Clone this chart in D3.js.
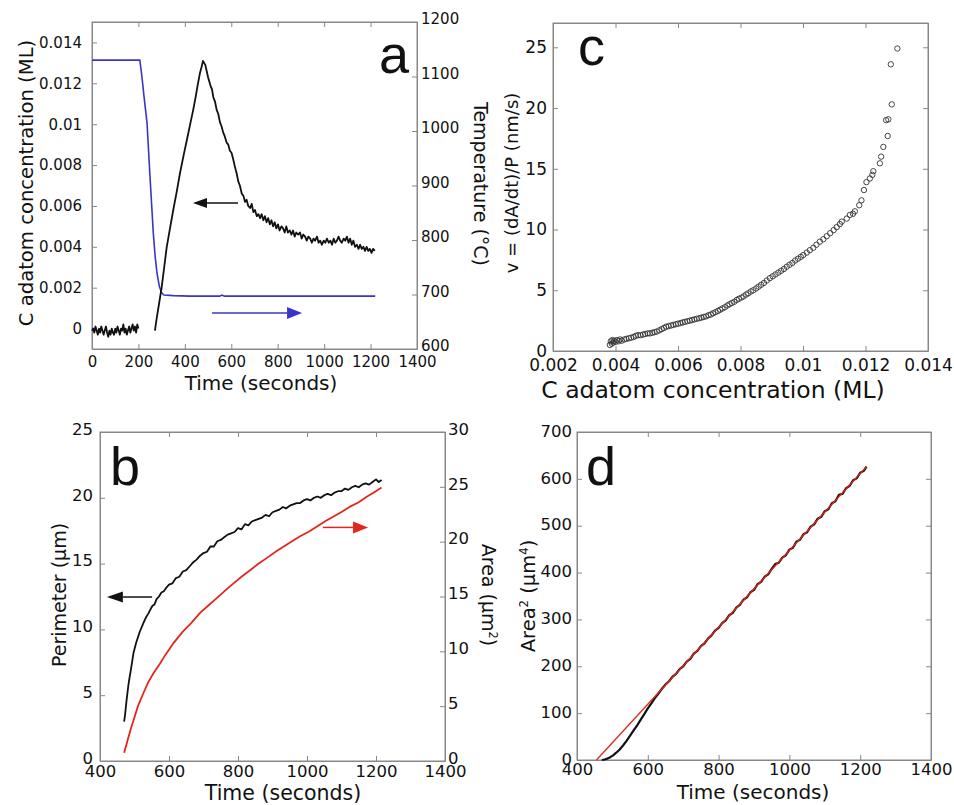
<!DOCTYPE html>
<html>
<head>
<meta charset="utf-8">
<script src="https://cdn.jsdelivr.net/npm/d3@7"></script>
<style>
  body { margin: 0; background: #fff; }
  svg text { font-family: "DejaVu Sans", sans-serif; fill: #111; }
  .tick line, .domain { stroke: #888; }
</style>
</head>
<body>
<svg id="fig" width="954" height="805"></svg>
<script>
// ---- panel a: C adatom concentration (ML) vs time, and temperature ----
const concEarly = [
  [0,-0.0001],[5,0.0000],[10,-0.0002],[15,0.0001],[20,-0.0001],[25,-0.0003],[30,0.0000],[35,-0.0002],
  [40,0.0001],[45,-0.0001],[50,-0.0003],[55,-0.0001],[60,0.0001],[65,-0.0002],[70,-0.0004],[75,-0.0001],
  [80,-0.0003],[85,0.0000],[90,-0.0002],[95,-0.0003],[100,0.0000],[105,-0.0002],[110,0.0001],[115,-0.0001],
  [120,-0.0003],[125,0.0000],[130,-0.0001],[135,0.0002],[140,-0.0002],[145,0.0000],[150,-0.0003],[155,-0.0001],
  [160,0.0001],[165,-0.0002],[170,0.0000],[175,0.0002],[180,-0.0001],[185,0.0001],[190,-0.0002],[195,0.0002],[200,0.0000]
]
const concLate = [
  [271,-0.0001],[280,0.0006],[290,0.0013],[300,0.0020],[311,0.0030],[322,0.0040],[336,0.0049],[350,0.0058],
  [365,0.0067],[379,0.0076],[395,0.0085],[410,0.0093],[423,0.0100],[436,0.0107],[446,0.0113],[455,0.0119],
  [465,0.0125],[472,0.0128],[478,0.0131],[483,0.0130],[488,0.0129],[494,0.0126],[500,0.0123],[510,0.0119],
  [517,0.0117],[523,0.0113],[530,0.0111],[537,0.0107],[544,0.0105],[551,0.0101],[558,0.0099],[565,0.0096],
  [572,0.0094],[580,0.0091],[587,0.0090],[594,0.0087],[601,0.0086],[608,0.0083],[616,0.0079],
  [623,0.0076],[630,0.0072],[637,0.0070],[645,0.0066],[652,0.0065],[659,0.0062],[666,0.0063],[673,0.0060],
  [681,0.0059],[688,0.0061],[695,0.0057],[702,0.0058],[710,0.0055],[717,0.0056],[724,0.0054],[731,0.0056],
  [738,0.0053],[745,0.0055],[752,0.0052],[759,0.0054],[766,0.0051],[773,0.0053],[780,0.0050],[787,0.0052],
  [794,0.0049],[801,0.0051],[808,0.0048],[816,0.0050],[823,0.0049],[830,0.0047],[837,0.0050],[844,0.0047],
  [852,0.0048],[859,0.0046],[866,0.0048],[873,0.0045],[880,0.0047],[888,0.0046],[896,0.0047],[903,0.0044],
  [910,0.0046],[918,0.0045],[925,0.0043],[932,0.0045],[940,0.0044],[947,0.0042],[954,0.0044],[961,0.0043],
  [969,0.0045],[976,0.0042],[983,0.0043],[990,0.0041],[998,0.0043],[1005,0.0042],[1012,0.0044],[1020,0.0042],
  [1027,0.0043],[1034,0.0041],[1041,0.0044],[1048,0.0042],[1055,0.0043],[1062,0.0045],[1069,0.0043],[1076,0.0042],
  [1084,0.0044],[1091,0.0043],[1098,0.0045],[1105,0.0042],[1112,0.0044],[1119,0.0041],[1126,0.0043],[1133,0.0040],
  [1141,0.0041],[1148,0.0039],[1155,0.0041],[1162,0.0039],[1169,0.0040],[1176,0.0038],[1183,0.0040],[1190,0.0038],
  [1197,0.0039],[1204,0.0037],[1211,0.0039],[1218,0.0038]
]
const tempCurve = [
  [0,1130],[206,1130],[215,1100],[225,1060],[237,1015],[250,915],[264,813],[272,770],[280,739],[290,715],
  [300,703],[310,699],[350,698],[420,697],[500,697],[550,697],[560,699],[570,697],[800,697],[1000,697],[1220,697]
]
const timeTicksA = [0,200,400,600,800,1000,1200,1400]
const concTicks = [0,0.002,0.004,0.006,0.008,0.01,0.012,0.014]
const tempTicks = [600,700,800,900,1000,1100,1200]

// ---- panel b: perimeter and area vs time ----
const perimData = [
  [470,3.0],[473,3.6],[477,4.6],[482,5.7],[486,6.4],[490,7.0],[497,8.2],[505,9.0],[515,9.8],[526,10.5],
  [533,10.9],[540,11.2],[546,11.5],[552,11.8],[558,11.9],[564,12.3],[571,12.5],[578,12.8],[585,12.9],[593,13.2],
  [600,13.4],[610,13.5],[620,13.9],[630,14.0],[640,14.4],[650,14.5],[660,14.8],[670,15.1],[680,15.3],[690,15.6],
  [700,15.8],[710,15.9],[720,16.3],[730,16.3],[740,16.7],[750,16.8],[760,17.0],[770,17.2],[780,17.3],[790,17.4],
  [800,17.7],[810,17.6],[820,18.0],[830,17.9],[840,18.2],[850,18.3],[860,18.4],[870,18.5],[880,18.7],[890,18.6],
  [900,18.9],[910,19.0],[920,19.1],[930,19.3],[940,19.2],[950,19.4],[960,19.5],[970,19.6],[980,19.6],[990,19.8],
  [1000,19.9],[1010,19.8],[1020,20.0],[1030,20.1],[1040,20.0],[1050,20.2],[1060,20.3],[1070,20.2],[1080,20.4],[1090,20.5],
  [1100,20.5],[1110,20.7],[1120,20.6],[1130,20.8],[1140,20.9],[1150,20.8],[1160,21.0],[1170,21.1],[1180,21.0],[1190,21.2],
  [1200,21.4],[1208,21.2],[1216,21.35]
]
const areaData = [
  [470,0.76],[480,1.9],[490,3.0],[497,3.7],[510,5.0],[526,6.2],[540,7.2],[555,8.0],[574,8.9],[590,9.7],
  [613,10.75],[640,11.8],[665,12.6],[690,13.5],[715,14.2],[740,14.9],[765,15.6],[787,16.2],[810,16.8],[835,17.4],
  [860,18.0],[883,18.5],[910,19.1],[935,19.6],[960,20.1],[980,20.5],[1005,20.9],[1030,21.4],[1055,21.9],[1077,22.3],
  [1100,22.7],[1125,23.2],[1150,23.6],[1173,24.1],[1195,24.5],[1216,24.95]
]
const timeTicksB = [400,600,800,1000,1200,1400]
const perimTicks = [0,5,10,15,20,25]
const areaTicks = [0,5,10,15,20,25,30]

// ---- panel c: v = (dA/dt)/P vs C adatom concentration ----
const velocityPoints = [
  [0.00382,0.5],[0.00385,0.8],[0.00388,0.6],[0.00390,0.9],[0.00393,0.7],[0.00396,0.85],[0.00400,0.75],[0.00405,0.9],
  [0.00410,0.8],[0.00415,0.95],[0.00420,0.85],[0.00428,0.95],[0.00435,1.0],[0.00443,1.05],[0.00450,1.1],[0.00458,1.15],
  [0.00465,1.25],[0.00472,1.3],[0.00480,1.3],[0.00488,1.35],[0.00495,1.4],[0.00503,1.45],[0.00510,1.45],[0.00518,1.5],
  [0.00525,1.55],[0.00532,1.6],[0.00540,1.7],[0.00548,1.8],[0.00555,1.9],[0.00562,2.0],[0.00570,2.05],[0.00578,2.1],
  [0.00585,2.15],[0.00593,2.2],[0.00600,2.25],[0.00608,2.3],[0.00615,2.35],[0.00622,2.4],[0.00630,2.45],[0.00638,2.5],
  [0.00645,2.55],[0.00652,2.6],[0.00660,2.65],[0.00668,2.7],[0.00675,2.75],[0.00682,2.8],[0.00690,2.85],[0.00698,2.95],
  [0.00705,3.0],[0.00712,3.1],[0.00720,3.2],[0.00728,3.3],[0.00735,3.4],[0.00742,3.5],[0.00750,3.6],[0.00758,3.75],
  [0.00765,3.85],[0.00772,3.95],[0.00780,4.05],[0.00788,4.2],[0.00795,4.3],[0.00803,4.4],[0.00810,4.5],[0.00818,4.65],
  [0.00825,4.75],[0.00833,4.9],[0.00841,5.0],[0.00850,5.15],[0.00858,5.3],[0.00866,5.45],[0.00875,5.6],[0.00884,5.8],
  [0.00894,6.0],[0.00903,6.15],[0.00912,6.3],[0.00921,6.45],[0.00930,6.6],[0.00939,6.75],[0.00948,6.94],[0.00957,7.1],
  [0.00966,7.25],[0.00975,7.45],[0.00984,7.6],[0.00993,7.75],[0.01001,7.9],[0.01012,8.1],[0.01022,8.3],[0.01033,8.5],
  [0.01043,8.75],[0.01054,9.0],[0.01065,9.2],[0.01076,9.45],[0.01087,9.7],[0.01098,9.95],[0.01108,10.2],[0.01118,10.45],
  [0.01124,10.65],[0.01140,10.9],[0.01150,11.2],[0.01160,11.3],[0.01166,11.5],[0.01180,12.0],[0.01187,12.4],[0.01195,13.25],
  [0.01203,13.9],[0.01214,14.2],[0.01222,14.5],[0.01225,14.8],[0.01246,15.45],[0.01250,16.0],[0.01257,16.8],[0.01271,17.7],
  [0.01266,19.0],[0.01273,19.07],[0.01284,20.3],[0.01281,23.6],[0.01302,24.9]
]
const concTicksC = [0.002,0.004,0.006,0.008,0.01,0.012,0.014]
const velocityTicks = [0,5,10,15,20,25]

// ---- panel d: Area^2 vs time with linear fit ----
const area2Data = [
  [470,0],[478,1],[486,3],[494,6],[502,10],[510,15],[520,22],[530,31],[540,41],[550,52],[560,63],[570,74],
  [580,86],[590,98],[600,110],[610,121],[620,132],[630,142],[640,152],[650,161],[660,168],[670,178],[680,184],[690,194],
  [700,200],[710,210],[720,216],[730,227],[740,233],[750,243],[760,249],[770,259],[780,266],[790,276],[800,282],[810,292],
  [820,298],[830,309],[840,314],[850,325],[860,331],[870,342],[880,347],[890,358],[900,363],[910,375],[920,380],[930,391],
  [940,396],[950,408],[960,418],[970,421],[980,432],[990,437],[1000,449],[1010,453],[1020,466],[1030,470],[1040,482],[1050,486],
  [1060,498],[1070,503],[1080,515],[1090,519],[1100,531],[1110,535],[1120,548],[1130,552],[1140,566],[1150,568],[1160,580],
  [1170,585],[1180,597],[1190,601],[1200,613],[1210,617],[1218,626]
]
const area2Fit = [[455,0],[1218,626]]
const area2Ticks = [0,100,200,300,400,500,600,700]

const svg = d3.select('#fig')
const fmtSmall = d => d === 0 ? '0' : String(+d.toFixed(3))

// draws frame, four axes (ticks pointing in) and returns the scales
function drawPanel(o) {
  const g = svg.append('g')
  const x = d3.scaleLinear().domain(o.xDomain).range([o.left, o.right])
  const y = d3.scaleLinear().domain(o.yDomain).range([o.bottom, o.top])

  g.append('g').attr('transform', `translate(0,${o.bottom})`)
    .call(d3.axisBottom(x).tickValues(o.xTicks).tickSize(-5).tickSizeOuter(0)
      .tickPadding(o.xPad).tickFormat(o.xFmt || d3.format('d')))
  g.append('g').attr('transform', `translate(0,${o.top})`)
    .call(d3.axisTop(x).tickValues(o.xTicks).tickSize(-5).tickSizeOuter(0).tickFormat(''))
  g.append('g').attr('transform', `translate(${o.left},0)`)
    .call(d3.axisLeft(y).tickValues(o.yTicks).tickSize(-5).tickSizeOuter(0)
      .tickPadding(o.yPad).tickFormat(o.yFmt || d3.format('d')))
    .selectAll('text').attr('y', o.labelShift || 0)

  let y2 = null
  if (o.y2Domain) {
    y2 = d3.scaleLinear().domain(o.y2Domain).range([o.bottom, o.top])
    g.append('g').attr('transform', `translate(${o.right},0)`)
      .call(d3.axisRight(y2).tickValues(o.y2Ticks).tickSize(-5).tickSizeOuter(0)
        .tickPadding(o.y2Pad).tickFormat(d3.format('d')))
      .selectAll('text').attr('y', o.label2Shift || 0)
  } else {
    g.append('g').attr('transform', `translate(${o.right},0)`)
      .call(d3.axisRight(y).tickValues(o.yTicks).tickSize(-5).tickSizeOuter(0).tickFormat(''))
  }
  g.selectAll('.tick text').attr('font-size', o.tickFont).attr('font-family', '"DejaVu Sans", sans-serif').attr('fill', '#111')

  g.append('rect')
    .attr('x', o.left).attr('y', o.top)
    .attr('width', o.right - o.left).attr('height', o.bottom - o.top)
    .attr('fill', 'none').attr('stroke', '#888').attr('stroke-width', 1)

  return { g, x, y, y2 }
}

function letter(txt, x, y) {
  svg.append('text').attr('x', x).attr('y', y)
    .attr('font-size', 54).style('font-family', '"Liberation Sans", Arial, sans-serif')
    .text(txt)
}

function title(parts, x, y, rot, size) {
  const t = svg.append('text')
    .attr('transform', `translate(${x},${y}) rotate(${rot})`)
    .attr('text-anchor', 'middle').attr('font-size', size)
  parts.forEach(p => {
    const s = t.append('tspan').text(p.t)
    if (p.sup) s.attr('baseline-shift', 'super').attr('font-size', size * 0.6)
  })
}

function arrow(g, x1, x2, y, color, headLen, halfW) {
  const dir = Math.sign(x2 - x1)
  g.append('line').attr('x1', x1).attr('x2', x2 - dir * headLen).attr('y1', y).attr('y2', y)
    .attr('stroke', color).attr('stroke-width', 1.5)
  g.append('path')
    .attr('d', `M${x2},${y}L${x2 - dir * headLen},${y - halfW}L${x2 - dir * headLen},${y + halfW}Z`)
    .attr('fill', color)
}

const BLUE = '#3a35c8'
const RED = '#e3261c'

// ---------- panel a ----------
const pa = drawPanel({
  left: 92, right: 417, top: 22, bottom: 349,
  xDomain: [0, 1400], yDomain: [-0.001, 0.015], y2Domain: [600, 1200],
  xTicks: timeTicksA, yTicks: concTicks, y2Ticks: tempTicks, yFmt: fmtSmall,
  xPad: 7, yPad: 10, y2Pad: 4, label2Shift: -3, tickFont: 15
})
const lineA = d3.line().x(d => pa.x(d[0])).y(d => pa.y(d[1]))
const lineT = d3.line().x(d => pa.x(d[0])).y(d => pa.y2(d[1]))
pa.g.append('path').datum(tempCurve).attr('d', lineT).attr('fill', 'none').attr('stroke', BLUE).attr('stroke-width', 1.6)
;[concEarly, concLate].forEach(s => {
  pa.g.append('path').datum(s).attr('d', lineA).attr('fill', 'none')
    .attr('stroke', '#111').attr('stroke-width', 1.8).attr('stroke-linejoin', 'round')
})
arrow(pa.g, pa.x(629), pa.x(435), pa.y(0.00614), '#111', 14, 5)
arrow(pa.g, pa.x(517), pa.x(905), pa.y2(666), BLUE, 15, 6)
letter('a', 379, 73)
title([{ t: 'Time (seconds)' }], 261, 390, 0, 20)
title([{ t: 'C adatom concentration (ML)' }], 33, 183, -90, 19.6)
title([{ t: 'Temperature (°C)' }], 474, 184, 90, 19)

// ---------- panel c ----------
const pc = drawPanel({
  left: 553, right: 928, top: 23, bottom: 351,
  xDomain: [0.002, 0.014], yDomain: [0, 27],
  xTicks: concTicksC, yTicks: velocityTicks, xFmt: fmtSmall,
  xPad: 8, yPad: 6, tickFont: 17
})
pc.g.selectAll('.pt').data(velocityPoints).join('circle')
  .attr('class', 'pt')
  .attr('cx', d => pc.x(d[0])).attr('cy', d => pc.y(d[1])).attr('r', 2.7)
  .attr('fill', 'none').attr('stroke', '#333').attr('stroke-width', 0.9)
letter('c', 578, 65)
title([{ t: 'C adatom concentration (ML)' }], 713, 398, 0, 23.5)
title([{ t: 'v = (dA/dt)/P (nm/s)' }], 518, 183, -90, 18)

// ---------- panel b ----------
const pb = drawPanel({
  left: 100, right: 445, top: 432, bottom: 761,
  xDomain: [400, 1400], yDomain: [0, 25], y2Domain: [0, 30],
  xTicks: timeTicksB, yTicks: perimTicks, y2Ticks: areaTicks,
  xPad: 4, yPad: 7, y2Pad: 3, labelShift: -3, label2Shift: -3, tickFont: 16.5
})
pb.g.append('path').datum(areaData)
  .attr('d', d3.line().x(d => pb.x(d[0])).y(d => pb.y2(d[1])))
  .attr('fill', 'none').attr('stroke', RED).attr('stroke-width', 1.8)
pb.g.append('path').datum(perimData)
  .attr('d', d3.line().x(d => pb.x(d[0])).y(d => pb.y(d[1])))
  .attr('fill', 'none').attr('stroke', '#111').attr('stroke-width', 1.8).attr('stroke-linejoin', 'round')
arrow(pb.g, pb.x(551), pb.x(420), pb.y(12.46), '#111', 16, 5.5)
arrow(pb.g, pb.x(1046), pb.x(1177), pb.y2(21.3), RED, 15, 6)
letter('b', 110, 485)
title([{ t: 'Time (seconds)' }], 283, 800, 0, 20.5)
title([{ t: 'Perimeter (μm)' }], 66, 595, -90, 19)
title([{ t: 'Area (μm' }, { t: '2', sup: true }, { t: ')' }], 482, 595, 90, 19)

// ---------- panel d ----------
const pd = drawPanel({
  left: 577, right: 931, top: 432, bottom: 760,
  xDomain: [400, 1400], yDomain: [0, 700],
  xTicks: timeTicksB, yTicks: area2Ticks,
  xPad: 3, yPad: 5, labelShift: -1, tickFont: 16.5
})
const lineD = d3.line().x(d => pd.x(d[0])).y(d => pd.y(d[1]))
pd.g.append('path').datum(area2Data).attr('d', lineD).attr('fill', 'none')
  .attr('stroke', '#111').attr('stroke-width', 2.2).attr('stroke-linejoin', 'round')
pd.g.append('path').datum(area2Fit).attr('d', lineD).attr('fill', 'none')
  .attr('stroke', RED).attr('stroke-width', 1.3)
letter('d', 586, 485)
title([{ t: 'Time (seconds)' }], 753, 799, 0, 20)
title([{ t: 'Area' }, { t: '2', sup: true }, { t: ' (μm' }, { t: '4', sup: true }, { t: ')' }], 535, 596, -90, 19.5)
</script>
</body>
</html>
